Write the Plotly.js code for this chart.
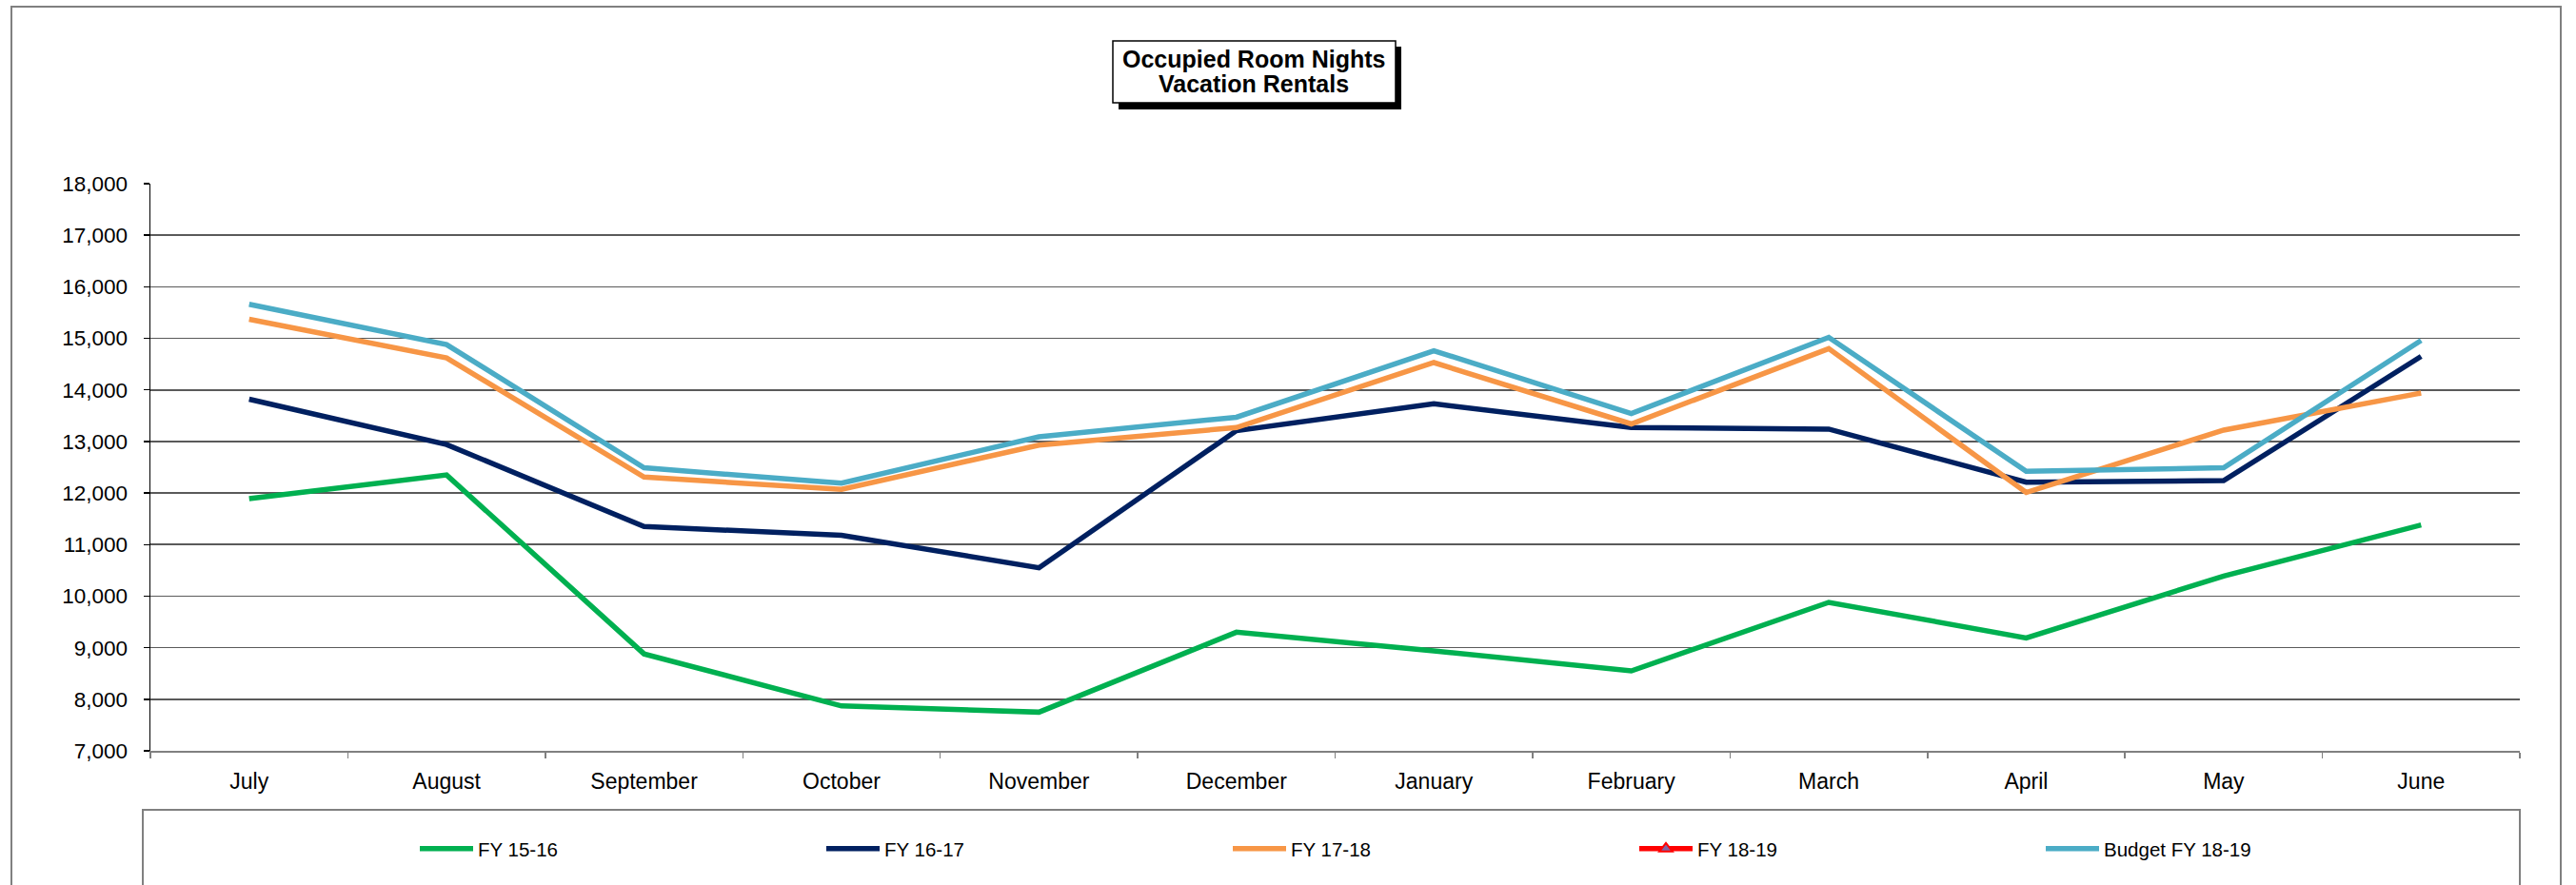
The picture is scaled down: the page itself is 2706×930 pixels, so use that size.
<!DOCTYPE html>
<html>
<head>
<meta charset="utf-8">
<script src="https://cdn.plot.ly/plotly-3.0.1.min.js"></script>
<style>
  body { margin: 0; background: #ffffff; }
  #chart { width: 2706px; height: 930px; }
</style>
</head>
<body>
<div id="chart"></div>
<script>
// months of the fiscal year
var months = ['July', 'August', 'September', 'October', 'November', 'December',
  'January', 'February', 'March', 'April', 'May', 'June'];

// occupied room nights
var fy1516 = [11890, 12350, 8880, 7870, 7750, 9300, 8940, 8550, 9880, 9190, 10390, 11380];
var fy1617 = [13820, 12940, 11350, 11180, 10550, 13210, 13730, 13270, 13240, 12210, 12240, 14650];
var fy1718 = [15370, 14620, 12310, 12070, 12930, 13270, 14530, 13340, 14800, 12010, 13220, 13940];
var fy1819 = [null, null, null, null, null, null, null, null, null, null, null, null];
var budget1819 = [15660, 14880, 12490, 12190, 13090, 13470, 14760, 13540, 15020, 12420, 12490, 14960];

var titleLines = ['Occupied Room Nights', 'Vacation Rentals'];

// plot area in page pixels, used to place the frames and title box
var W = 2706, H = 930;
var plotL = 158, plotR = 2647, plotT = 193, plotB = 789;
function px(x) { return (x - plotL) / (plotR - plotL); }
function py(y) { return (plotB - y) / (plotB - plotT); }

var font = 'Liberation Sans, Arial, sans-serif';

function lineTrace(name, y, color) {
  return {
    name: name,
    type: 'scatter',
    mode: 'lines',
    x: months,
    y: y,
    line: { color: color, width: 5.5 },
    hoverinfo: 'skip',
  };
}

var plotData = [
  lineTrace('FY 15-16', fy1516, '#00b050'),
  lineTrace('FY 16-17', fy1617, '#002060'),
  lineTrace('FY 17-18', fy1718, '#f79646'),
  {
    name: 'FY 18-19',
    type: 'scatter',
    mode: 'lines+markers',
    x: months,
    y: fy1819,
    line: { color: '#ff0000', width: 5.5 },
    marker: { symbol: 'triangle-up', size: 12, color: '#8064a2', line: { color: '#ff0000', width: 2 } },
    hoverinfo: 'skip',
  },
  lineTrace('Budget FY 18-19', budget1819, '#4bacc6'),
];

var layout = {
  width: W,
  height: H,
  margin: { l: plotL, r: W - plotR, t: plotT, b: H - plotB, pad: 0 },
  paper_bgcolor: '#ffffff',
  plot_bgcolor: '#ffffff',
  font: { family: font, size: 23, color: '#000000' },
  showlegend: true,
  legend: {
    orientation: 'h',
    x: px(436),
    xanchor: 'left',
    y: py(892),
    yanchor: 'middle',
    entrywidth: 356,
    entrywidthmode: 'pixels',
    itemwidth: 56,
    font: { family: font, size: 20.5, color: '#000000' },
    bgcolor: 'rgba(0,0,0,0)',
    borderwidth: 0,
  },
  xaxis: {
    type: 'category',
    range: [-0.5, 11.5],
    showgrid: false,
    showline: true,
    linecolor: '#808080',
    linewidth: 2,
    ticks: 'outside',
    tickson: 'boundaries',
    ticklen: 6,
    tickcolor: '#808080',
    tickwidth: 1.5,
    ticklabelstandoff: 10,
    tickfont: { size: 23 },
    zeroline: false,
  },
  yaxis: {
    range: [7000, 18000],
    dtick: 1000,
    tickformat: ',d',
    showgrid: true,
    gridcolor: '#5a5a5a',
    gridwidth: 1.6,
    showline: true,
    linecolor: '#000000',
    linewidth: 1.5,
    ticks: 'outside',
    ticklen: 6,
    tickcolor: '#000000',
    tickwidth: 1.5,
    ticklabelstandoff: 12,
    tickfont: { size: 22.5 },
    zeroline: false,
  },
  shapes: [
    // outer chart frame
    { type: 'rect', xref: 'paper', yref: 'paper', x0: px(12), x1: px(2690), y0: py(7), y1: py(945),
      line: { color: '#808080', width: 2 }, layer: 'below' },
    // legend frame
    { type: 'rect', xref: 'paper', yref: 'paper', x0: px(150), x1: px(2647), y0: py(851), y1: py(945),
      line: { color: '#808080', width: 2 }, layer: 'below' },
    // title shadow
    { type: 'rect', xref: 'paper', yref: 'paper', x0: px(1175), x1: px(1472), y0: py(49), y1: py(115),
      fillcolor: '#000000', line: { width: 0 }, layer: 'above' },
    // title box
    { type: 'rect', xref: 'paper', yref: 'paper', x0: px(1169), x1: px(1466), y0: py(43), y1: py(108),
      fillcolor: '#ffffff', line: { color: '#000000', width: 1.5 }, layer: 'above' },
  ],
  annotations: titleLines.map(function (t, i) {
    return {
      text: '<b>' + t + '</b>',
      xref: 'paper',
      yref: 'paper',
      x: px(1317),
      y: py(62 + i * 26),
      xanchor: 'center',
      yanchor: 'middle',
      showarrow: false,
      font: { family: font, size: 25, color: '#000000' },
    };
  }),
};

Plotly.newPlot('chart', plotData, layout, { displayModeBar: false, staticPlot: true });
</script>
</body>
</html>
